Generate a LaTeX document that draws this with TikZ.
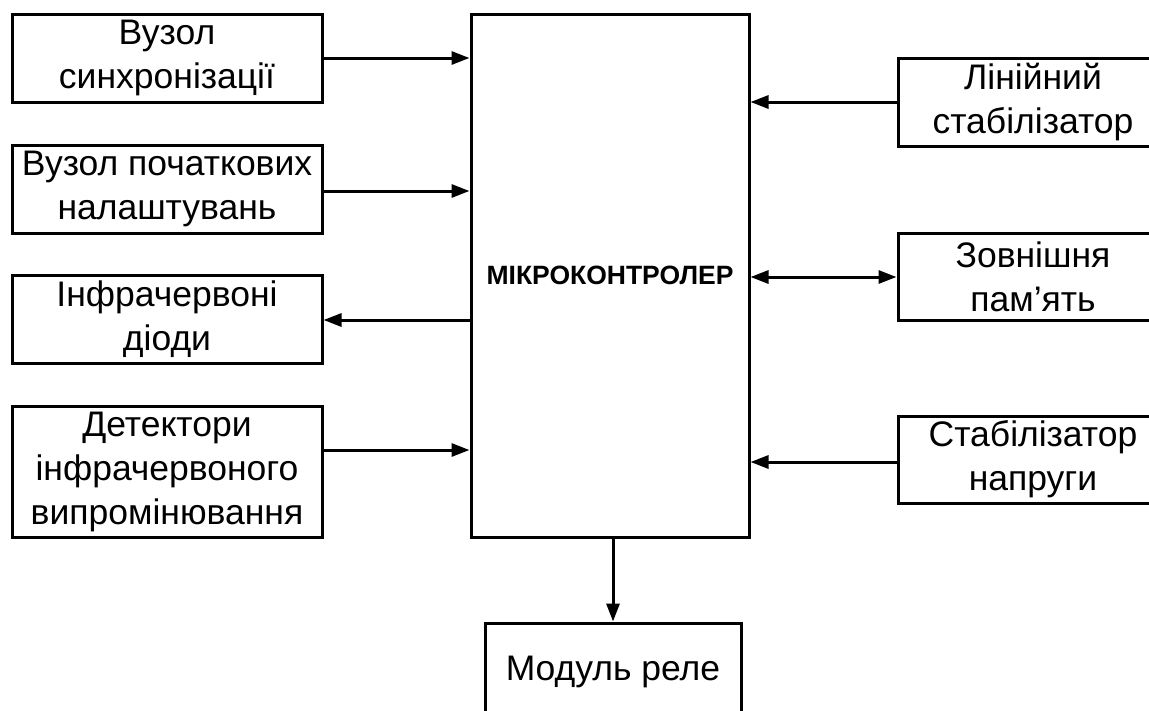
\documentclass[tikz,border=0pt]{standalone}
\usepackage{fontspec}
\setmainfont{Liberation Sans}
\usetikzlibrary{arrows.meta}
\begin{document}
\begin{tikzpicture}[x=1pt,y=-1pt,
  blk/.style={draw,line width=3pt,minimum width=310pt,align=center,inner sep=0pt,
    font=\fontsize{35.5}{44}\selectfont},
  arr/.style={line width=3pt,-{Triangle[length=18pt,width=13pt]}},
  barr/.style={line width=3pt,{Triangle[length=18pt,width=13pt]}-{Triangle[length=18pt,width=13pt]}}]
\useasboundingbox (0,0) rectangle (1149,710);
\clip (0,0) rectangle (1149,710);
\fill[white] (0,0) rectangle (1149,710);
% left blocks
\node[blk,minimum height=88pt] (sync) at (167,58) {Вузол\\синхронізації};
\node[blk,minimum height=88pt] (init) at (167,189) {Вузол початкових\\налаштувань};
\node[blk,minimum height=88pt] (ird) at (167,319) {Інфрачервоні\\діоди};
\node[blk,minimum height=131pt] (det) at (167,471.5) {Детектори\\інфрачервоного\\випромінювання};
% microcontroller
\node[draw,line width=3pt,minimum width=278pt,minimum height=523pt,inner sep=0pt,
  font=\fontsize{26.5}{30}\selectfont\bfseries] (mcu) at (610,275.5) {МІКРОКОНТРОЛЕР};
% right blocks
\node[blk,minimum width=270pt,minimum height=88pt] (lin) at (1033,102) {Лінійний\\стабілізатор};
\node[blk,minimum width=270pt,minimum height=87pt] (mem) at (1033,276.5) {Зовнішня\\пам’ять};
\node[blk,minimum width=270pt,minimum height=87pt] (stab) at (1033,459.5) {Стабілізатор\\напруги};
% relay
\node[blk,minimum width=256pt,minimum height=98pt] (relay) at (613,672) {Модуль реле};
% connectors
\draw[arr] (sync.east) -- (mcu.west |- sync.east);
\draw[arr] (init.east |- 0,191) -- (mcu.west |- 0,191);
\draw[arr] (mcu.west |- 0,320) -- (ird.east |- 0,320);
\draw[arr] (det.east |- 0,450) -- (mcu.west |- 0,450);
\draw[arr] (lin.west) -- (mcu.east |- lin.west);
\draw[barr] (mcu.east |- 0,277) -- (mem.west |- 0,277);
\draw[arr] (stab.west |- 0,462) -- (mcu.east |- 0,462);
\draw[arr] (mcu.south -| relay.north) -- (relay.north);
\end{tikzpicture}
\end{document}
